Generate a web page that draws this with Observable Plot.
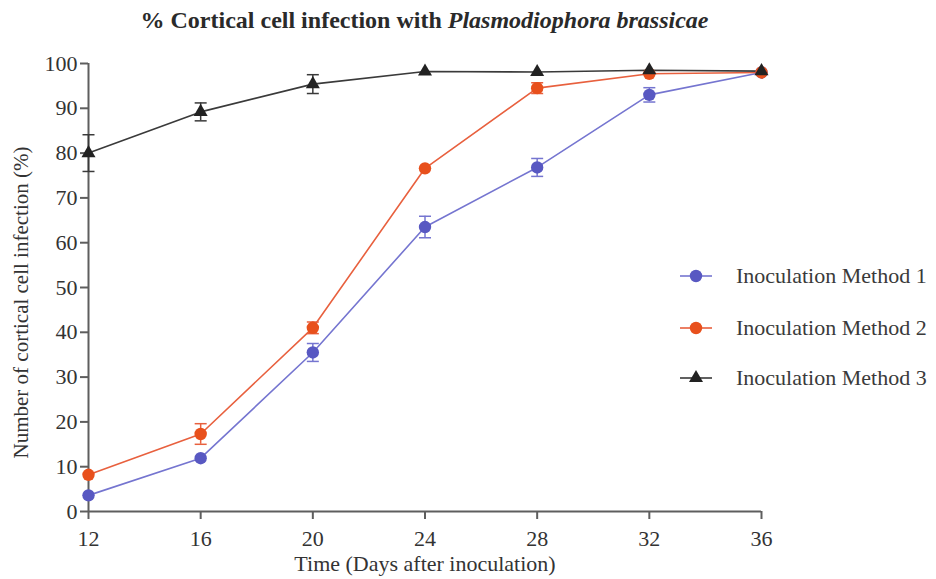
<!DOCTYPE html>
<html>
<head>
<meta charset="utf-8">
<script src="https://cdn.jsdelivr.net/npm/d3@7"></script>
<script src="https://cdn.jsdelivr.net/npm/@observablehq/plot@0.6"></script>
<style>
  html, body { margin: 0; padding: 0; background: #fff; }
  #wrap { position: relative; width: 936px; height: 579px; overflow: hidden; font-family: "Liberation Serif", serif; color: #333; }
  #title { width: 849px; height: 40px; line-height: 40px; text-align: center; font-family: "Liberation Serif", serif; font-weight: bold; font-size: 24px; color: #2a2a2a; white-space: nowrap; }
  #legend { position: absolute; left: 678px; top: 0; }
  .item { position: absolute; left: 0; height: 24px; display: flex; align-items: center; white-space: nowrap; font-family: "Liberation Serif", serif; font-size: 22px; color: #3a3a3a; }
  .item svg { margin-right: 22px; }
</style>
</head>
<body>
<div id="wrap">
  <div id="title">% Cortical cell infection with <i>Plasmodiophora brassicae</i></div>
  <div id="chart"></div>
  <div id="legend"></div>
</div>
<script>
// ---- data ----
const days = [12, 16, 20, 24, 28, 32, 36];
const seriesNames = ["Inoculation Method 1", "Inoculation Method 2", "Inoculation Method 3"];
const method1 = [3.6, 11.9, 35.5, 63.5, 76.8, 93.0, 98.0];
const method1Err = [0, 0, 2.0, 2.4, 2.0, 1.6, 0];
const method2 = [8.2, 17.3, 41.0, 76.6, 94.5, 97.7, 98.0];
const method2Err = [0, 2.3, 1.3, 0, 1.2, 0, 0];
const method3 = [80.0, 89.2, 95.4, 98.2, 98.1, 98.5, 98.3];
const method3Err = [4.1, 2.0, 2.1, 0, 0, 0, 0];
const yTicks = [0, 10, 20, 30, 40, 50, 60, 70, 80, 90, 100];
const xTitle = "Time (Days after inoculation)";
const yTitle = "Number of cortical cell infection (%)";

// ---- styles ----
const FONT = "'Liberation Serif', serif";
const lineColors = ["#7575d0", "#e8603e", "#3a3a3a"];
const dotColors = ["#5858c2", "#e8501c", "#222222"];
const symbols = ["circle", "circle", "triangle"];
const radii = [6.2, 6.2, 5.2];

const values = [method1, method2, method3];
const errs = [method1Err, method2Err, method3Err];
const rows = [];
seriesNames.forEach((s, i) => days.forEach((d, j) => rows.push({series: s, idx: i, day: d, value: values[i][j], err: errs[i][j]})));
const errRows = rows.filter(r => r.err > 0);
const capRows = errRows.flatMap(r => [{...r, cap: r.value + r.err}, {...r, cap: r.value - r.err}]);

const capSymbol = {
  draw(context, size) {
    const w = Math.sqrt(size / Math.PI);
    context.moveTo(-w, 0);
    context.lineTo(w, 0);
  }
};

const marks = [
  Plot.ruleY([0], {stroke: "#5e5e5e", strokeWidth: 2}),
  Plot.ruleX([12], {stroke: "#5e5e5e", strokeWidth: 2}),
  Plot.axisX(days, {tickSize: 8, tickPadding: 11, label: null, stroke: "#5e5e5e", strokeWidth: 2, fill: "#333", fontSize: 22, fontFamily: FONT, fontVariant: "normal"}),
  Plot.axisY(yTicks, {tickSize: 8, tickPadding: 3, label: null, stroke: "#5e5e5e", strokeWidth: 2, fill: "#333", fontSize: 22, fontFamily: FONT, fontVariant: "normal"}),
  Plot.text([xTitle], {text: d => d, frameAnchor: "bottom", textAnchor: "middle", dy: 59, fill: "#333", fontSize: 22, fontFamily: FONT}),
  Plot.text([yTitle], {text: d => d, frameAnchor: "left", textAnchor: "middle", rotate: -90, dx: -67, dy: 15, fill: "#333", fontSize: 21, fontFamily: FONT})
];
seriesNames.forEach((s, i) => {
  marks.push(Plot.line(rows.filter(r => r.idx === i), {x: "day", y: "value", stroke: lineColors[i], strokeWidth: 1.6}));
});
seriesNames.forEach((s, i) => {
  const e = errRows.filter(r => r.idx === i);
  const c = capRows.filter(r => r.idx === i);
  marks.push(Plot.ruleX(e, {x: "day", y1: r => r.value - r.err, y2: r => r.value + r.err, stroke: lineColors[i], strokeWidth: 1.5}));
  marks.push(Plot.dot(c, {x: "day", y: "cap", symbol: capSymbol, r: 6, stroke: lineColors[i], strokeWidth: 1.5}));
  marks.push(Plot.dot(rows.filter(r => r.idx === i), {x: "day", y: "value", symbol: symbols[i], r: radii[i], fill: dotColors[i], stroke: "none"}));
});

const chart = Plot.plot({
  width: 936,
  height: 539,
  marginLeft: 88,
  marginRight: 175,
  marginTop: 23,
  marginBottom: 68,
  x: {domain: [12, 36], label: null},
  y: {domain: [0, 100], label: null},
  style: {fontFamily: FONT, fontSize: "22px", color: "#333", background: "#fff"},
  marks
});
document.getElementById("chart").appendChild(chart);

// ---- legend (HTML overlay) ----
const legendTops = [264, 316, 366];
const legend = d3.select("#legend");
seriesNames.forEach((s, i) => {
  const item = legend.append("div").attr("class", "item").style("top", legendTops[i] + "px");
  const svg = item.append("svg").attr("width", 36).attr("height", 24);
  svg.append("line").attr("x1", 2).attr("x2", 34).attr("y1", 12).attr("y2", 12).attr("stroke", lineColors[i]).attr("stroke-width", 1.6);
  const sym = symbols[i] === "triangle" ? d3.symbolTriangle : d3.symbolCircle;
  svg.append("path").attr("transform", "translate(18,12)").attr("d", d3.symbol(sym, Math.PI * radii[i] * radii[i])()).attr("fill", dotColors[i]);
  item.append("span").text(s);
});
</script>
</body>
</html>
